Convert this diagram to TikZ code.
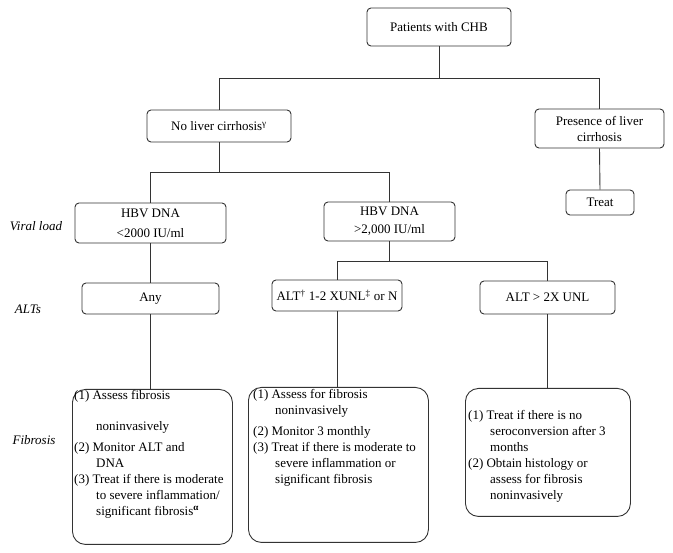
\documentclass[tikz,border=0pt]{standalone}
\usepackage{fontspec}
\setmainfont{Liberation Serif}
\usepackage{tikz}
\usetikzlibrary{calc}
\tikzset{
    flowbox/.style={
        draw=black!80,
        line width=0.9pt,
        rounded corners=4pt,
        align=center,
        inner sep=0pt,
        font=\fontsize{13}{16}\selectfont
    },
    fibbox/.style={
        draw=black!80,
        line width=0.9pt,
        rounded corners=13pt,
        anchor=north west,
        inner sep=0pt
    },
    fibline/.style={
        anchor=north west,
        align=left,
        inner sep=0pt,
        font=\fontsize{13}{16}\selectfont
    },
    rowlabel/.style={
        font=\fontsize{13}{16}\selectfont\itshape
    },
    link/.style={
        draw=black!80,
        line width=0.9pt
    }
}
\newcommand{\hangin}{\hspace*{22pt}}

\begin{document}
\begin{tikzpicture}[x=1pt,y=-1pt]

    \useasboundingbox (0,0) rectangle (673,553);

    %% top of the tree
    \node (pat) [flowbox,minimum width=144pt,minimum height=38pt] at (439,27) {Patients with CHB};
    \node (noliv) [flowbox,minimum width=144pt,minimum height=32pt] at (219,126) {No liver cirrhosis\textsuperscript{γ}};
    \node (pres) [flowbox,minimum width=129pt,minimum height=39pt] at (599.5,128.5) {Presence of liver\\cirrhosis};
    \node (treat) [flowbox,minimum width=68pt,minimum height=25pt] at (600,202.5) {Treat};

    %% Viral load
    \node (vl) [rowlabel] at (36,226) {Viral load};
    \node (hbvl) [flowbox,minimum width=151pt,minimum height=40pt] at (150.5,223) {HBV DNA\\[4pt]<2000 IU/ml};
    \node (hbvh) [flowbox,minimum width=131pt,minimum height=39pt] at (389.5,221.5) {HBV DNA\\[2pt]>2,000 IU/ml};

    %% ALTs
    \node (alts) [rowlabel] at (28,309) {ALTs};
    \node (altany) [flowbox,minimum width=137pt,minimum height=31pt] at (150.5,298.5) {Any};
    \node (altmid) [flowbox,minimum width=130pt,minimum height=31pt] at (337,295.5) {ALT\textsuperscript{†} 1-2 XUNL\textsuperscript{‡} or N};
    \node (althi) [flowbox,minimum width=135pt,minimum height=33pt] at (547.5,297.5) {ALT > 2X UNL};

    %% Fibrosis
    \node (fib) [rowlabel] at (34,440) {Fibrosis};

    \node (fibl) [fibbox,minimum width=160pt,minimum height=155pt] at (72,389) {};
    \node[fibline] at ($(fibl.north west)+(2,1)$) {(1) Assess fibrosis\\[15pt]
        \hangin noninvasively\\[5pt]
        (2) Monitor ALT and\\
        \hangin DNA\\
        (3) Treat if there is moderate\\
        \hangin to severe inflammation/\\
        \hangin significant fibrosis\textsuperscript{\textbf{α}}};

    \node (fibm) [fibbox,minimum width=180pt,minimum height=155pt] at (248,387) {};
    \node[fibline] at ($(fibm.north west)+(5,2)$) {(1) Assess for fibrosis\\
        \hangin noninvasively\\[5pt]
        (2) Monitor 3 monthly\\
        (3) Treat if there is moderate to\\
        \hangin severe inflammation or\\
        \hangin significant fibrosis};

    \node (fibr) [fibbox,minimum width=165pt,minimum height=128pt] at (465,388) {};
    \node[fibline] at ($(fibr.north west)+(3,22)$) {(1) Treat if there is no\\
        \hangin seroconversion after 3\\
        \hangin months\\
        (2) Obtain histology or\\
        \hangin assess for fibrosis\\
        \hangin noninvasively};

    %% connectors
    \draw[link] (pat.south) -- ++(0,32) coordinate (j1);
    \draw[link] (j1) -| (noliv.north);
    \draw[link] (j1) -| (pres.north);
    \draw[link] (pres.south) -- (treat.north);

    \draw[link] (noliv.south) -- ++(0,30) coordinate (j2);
    \draw[link] (j2) -| (hbvl.north);
    \draw[link] (j2) -| (hbvh.north);

    \draw[link] (hbvh.south) -- ++(0,20) coordinate (j3);
    \draw[link] (j3) -| (altmid.north);
    \draw[link] (j3) -| (althi.north);

    \draw[link] (hbvl.south) -- (altany.north);
    \draw[link] (altany.south) -- (altany.south |- fibl.north);
    \draw[link] (altmid.south) -- (altmid.south |- fibm.north);
    \draw[link] (althi.south) -- (althi.south |- fibr.north);

\end{tikzpicture}
\end{document}
